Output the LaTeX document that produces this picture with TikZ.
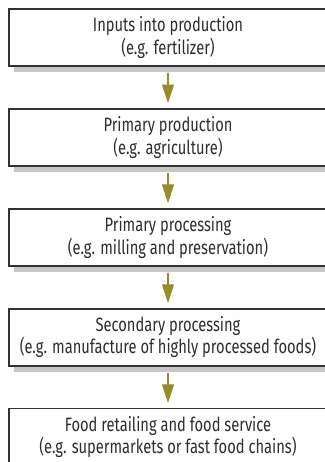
\documentclass[tikz,border=0pt]{standalone}
\usepackage{fontspec}
\setmainfont[FakeStretch=0.76]{Fira Sans}
\usetikzlibrary{positioning,shadows,arrows.meta}
\definecolor{olivearrow}{HTML}{958C2A}
\definecolor{boxline}{HTML}{333333}
\tikzstyle{stagebox}=[draw=boxline,line width=1.1pt,fill=white,text=boxline!90!black,align=center,minimum width=238.5pt,minimum height=42.75pt,inner sep=0pt,font=\fontsize{14.5}{16.8}\selectfont,drop shadow={shadow xshift=3.75pt,shadow yshift=-4.5pt,fill=black!22,opacity=1}]
\tikzstyle{flow}=[draw=olivearrow,line width=0.8pt,-{Triangle[length=14pt,width=9pt]},shorten <=4.5pt,shorten >=3.75pt]
\begin{document}
\begin{tikzpicture}
\useasboundingbox (0,0) rectangle (243.75pt,-346.5pt);
\clip (0,0) rectangle (243.75pt,-346.5pt);
% stages, top to bottom
\node[stagebox] (inputs) at (126pt,-28.125pt) {Inputs into production\\(e.g. fertilizer)};
\node[stagebox,below=31.1pt of inputs] (primprod) {Primary production\\(e.g. agriculture)};
\node[stagebox,below=31.1pt of primprod] (primproc) {Primary processing\\(e.g. milling and preservation)};
\node[stagebox,below=31.1pt of primproc] (secproc) {Secondary processing\\(e.g. manufacture of highly processed foods)};
\node[stagebox,below=31.1pt of secproc] (retail) {Food retailing and food service\\(e.g. supermarkets or fast food chains)};
% arrows
\draw[flow] (inputs) -- (primprod);
\draw[flow] (primprod) -- (primproc);
\draw[flow] (primproc) -- (secproc);
\draw[flow] (secproc) -- (retail);
\end{tikzpicture}
\end{document}
